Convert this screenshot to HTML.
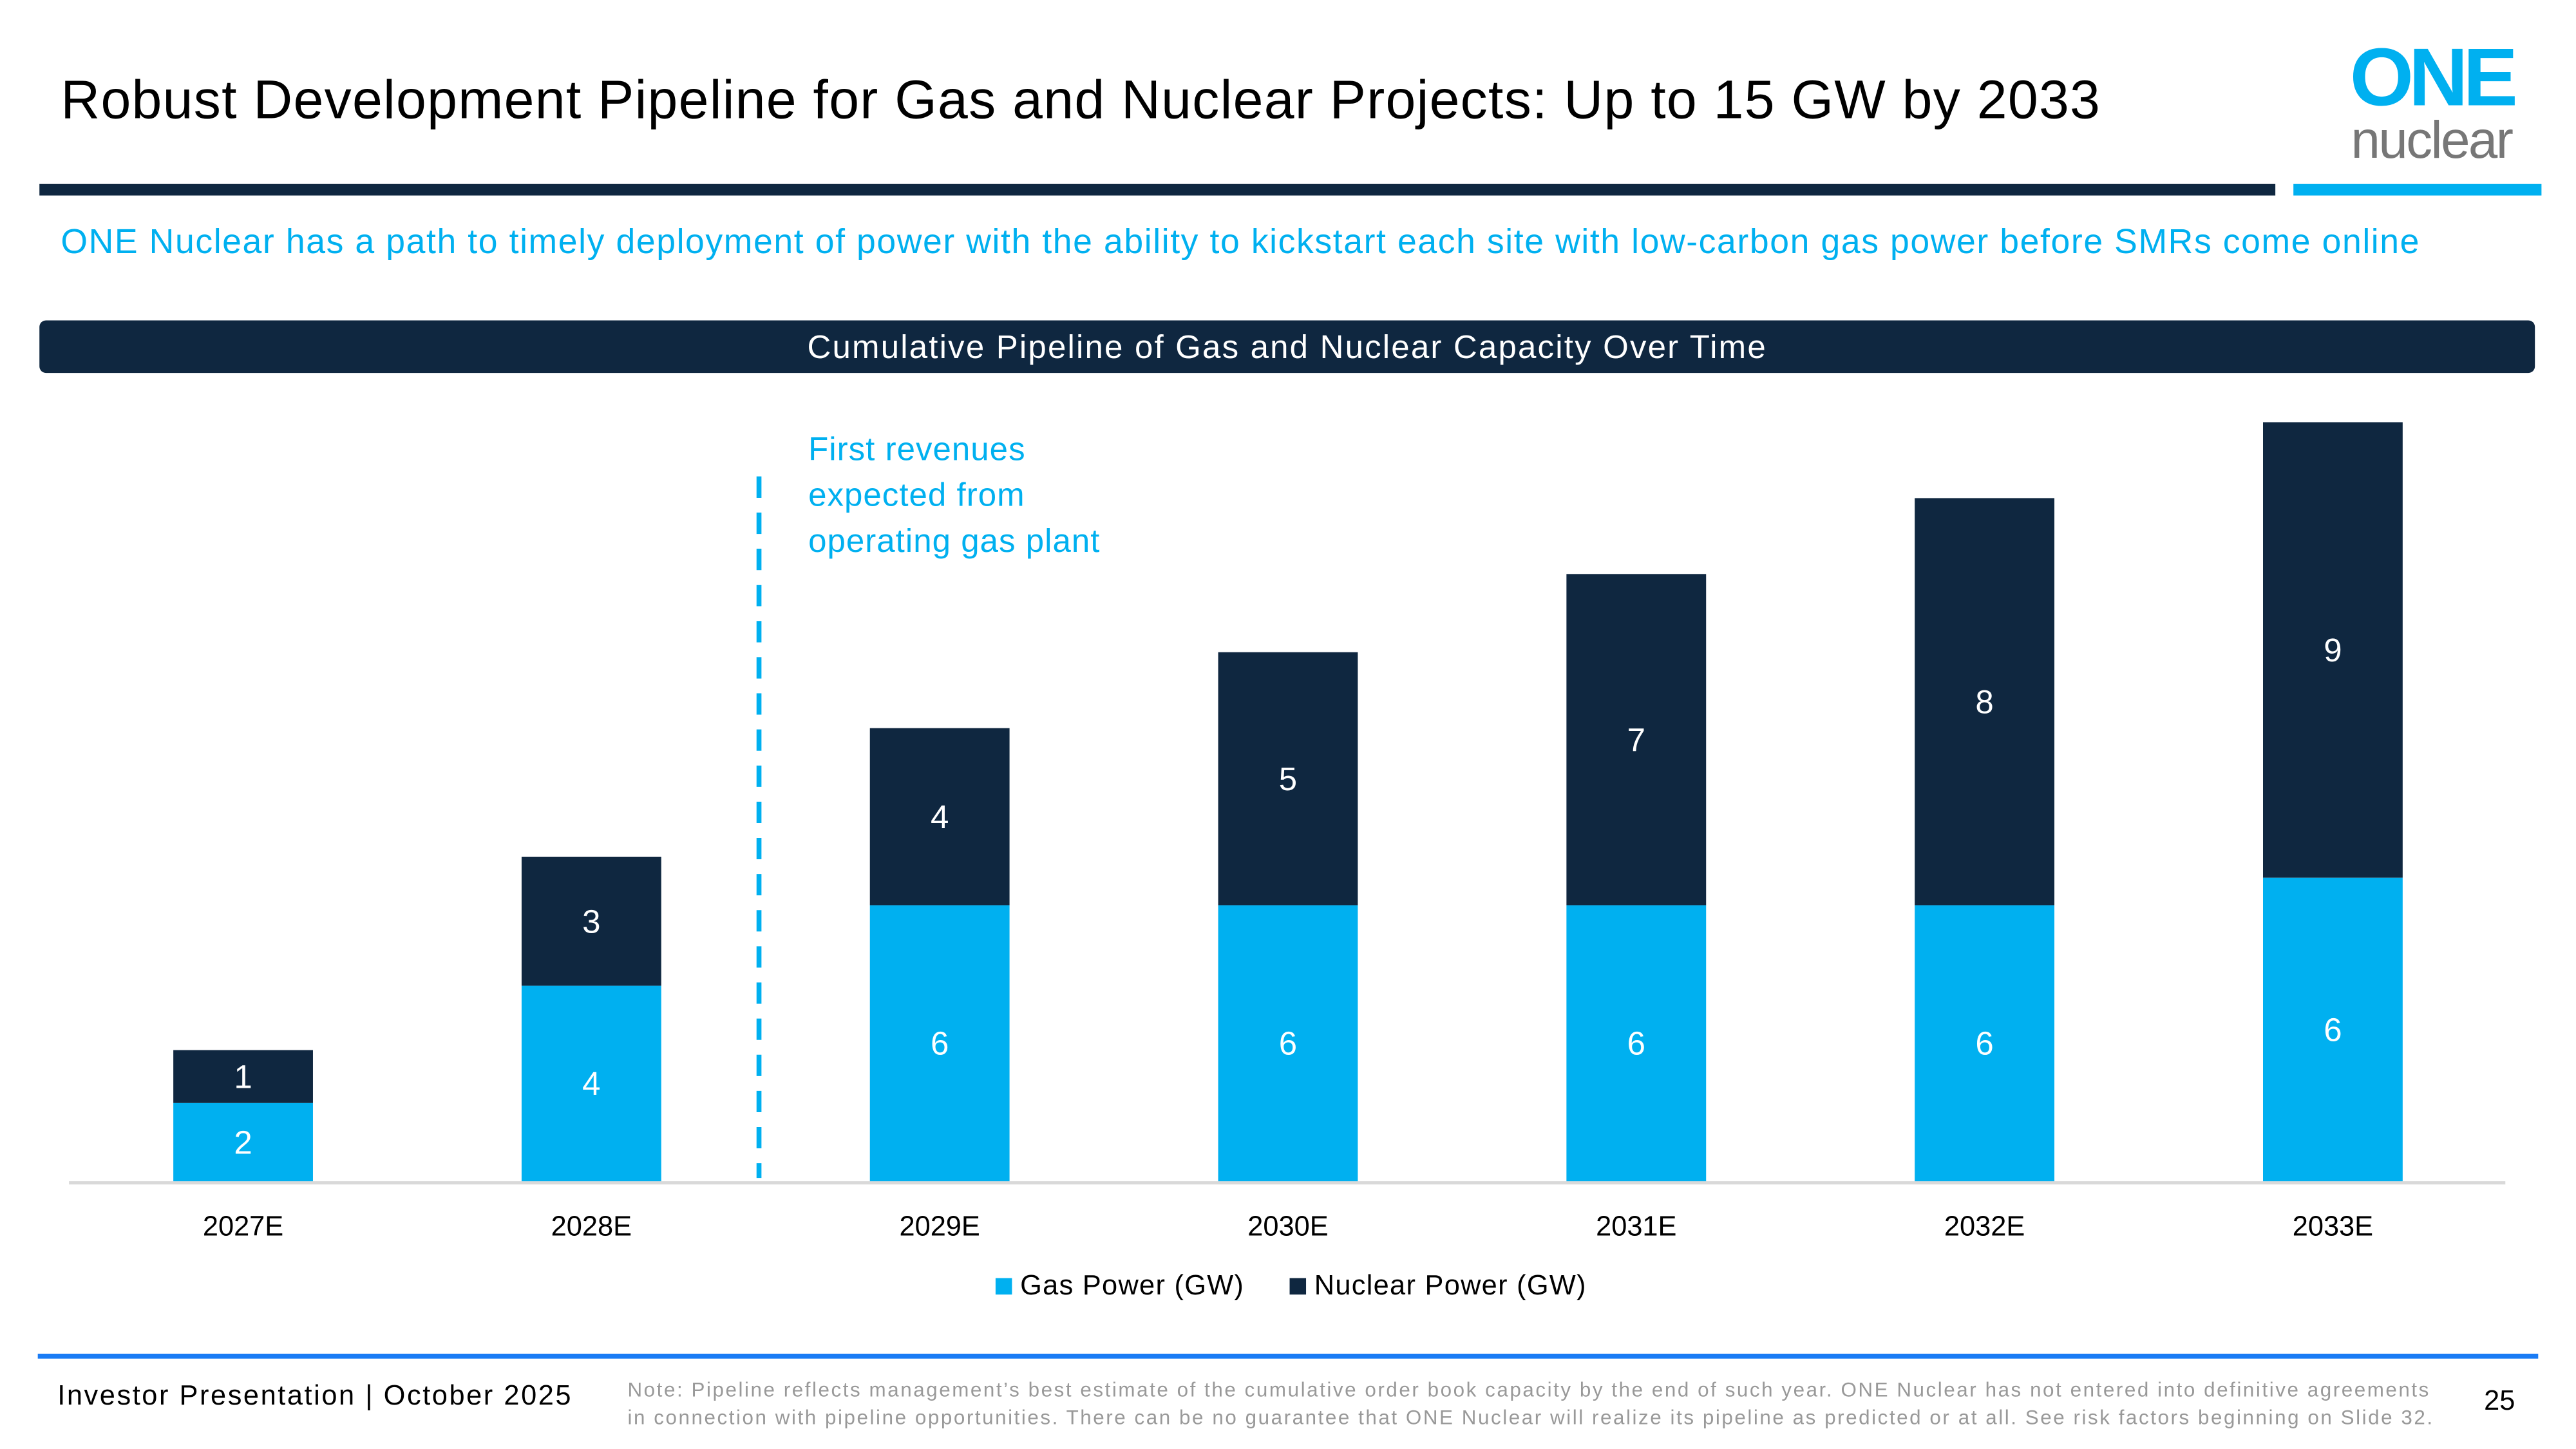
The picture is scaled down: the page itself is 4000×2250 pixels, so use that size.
<!DOCTYPE html>
<html><head><meta charset="utf-8"><style>
body{margin:0;width:4000px;height:2250px;overflow:hidden;background:#fff}
#s{position:absolute;left:0;top:0;width:1568px;height:882px;transform:scale(2.5510);transform-origin:0 0;font-family:"Liberation Sans",sans-serif}
.a{position:absolute;white-space:nowrap}
</style></head><body><div id="s">
<div class="a" style="left:37px;top:42px;font-size:33px;letter-spacing:0.5px;color:#000">Robust Development Pipeline for Gas and Nuclear Projects: Up to 15 GW by 2033</div>
<div class="a" style="left:1422px;top:22px;width:116px;text-align:center">
<div style="font-size:50px;font-weight:bold;color:#00b0f0;letter-spacing:-3px;line-height:50px">ONE</div>
<div style="font-size:32px;color:#777;line-height:26px;letter-spacing:-1px">nuclear</div></div>
<div class="a" style="left:24px;top:112px;width:1361px;height:7px;background:#0f2740"></div>
<div class="a" style="left:1396px;top:112px;width:151px;height:7px;background:#00b0f0"></div>
<div class="a" style="left:37px;top:136px;font-size:21px;color:#00b0f0;letter-spacing:0.62px">ONE Nuclear has a path to timely deployment of power with the ability to kickstart each site with low-carbon gas power before SMRs come online</div>
<div class="a" style="left:24px;top:195px;width:1519px;height:32px;background:#0f2740;border-radius:4px;color:#fff;font-size:20px;letter-spacing:0.85px;text-align:center;line-height:34px">Cumulative Pipeline of Gas and Nuclear Capacity Over Time</div>
<svg class="a" id="chart" style="left:0;top:0" width="1568" height="882"></svg>
<div class="a" style="left:492px;top:260px;font-size:20px;line-height:28px;letter-spacing:0.4px;color:#00b0f0">First revenues<br>expected from<br>operating gas plant</div>
<div class="a" style="left:606px;top:773px;font-size:17px;letter-spacing:0.5px"><span style="display:inline-block;width:10px;height:10px;background:#00b0f0;margin-right:5px"></span>Gas Power (GW)</div>
<div class="a" style="left:785px;top:773px;font-size:17px;letter-spacing:0.5px"><span style="display:inline-block;width:10px;height:10px;background:#0f2740;margin-right:5px"></span>Nuclear Power (GW)</div>
<div class="a" style="left:23px;top:824px;width:1522px;height:3px;background:#1a7cf5"></div>
<div class="a" style="left:35px;top:840px;font-size:17px;letter-spacing:1px">Investor Presentation | October 2025</div>
<div class="a" style="left:382px;top:838px;font-size:12.3px;line-height:17px;letter-spacing:1px;color:#999">Note: Pipeline reflects management’s best estimate of the cumulative order book capacity by the end of such year.  ONE Nuclear has not entered into definitive agreements<br>in connection with pipeline opportunities. There can be no guarantee that ONE Nuclear will realize its pipeline as predicted or at all. See risk factors beginning on Slide 32.</div>
<div class="a" style="left:1512px;top:843px;font-size:17px">25</div>
</div>
<script>
const categories=["2027E","2028E","2029E","2030E","2031E","2032E","2033E"];
const gasValues=[1.7,4.25,6.0,6.0,6.0,6.0,6.6];
const nuclearValues=[1.15,2.8,3.85,5.5,7.2,8.85,9.9];
const gasLabels=["2","4","6","6","6","6","6"];
const nuclearLabels=["1","3","4","5","7","8","9"];
const NS="http://www.w3.org/2000/svg";
const svg=document.getElementById('chart');
const base=719,unit=28,x0=148,step=212,bw=85;
const xc=i=>x0+i*step;
const y=v=>base-v*unit;
function mk(t,a){const e=document.createElementNS(NS,t);for(const k in a)e.setAttribute(k,a[k]);svg.appendChild(e);return e;}
const ax=mk('line',{x1:42,x2:1525,y1:base+1,y2:base+1,stroke:'#d9d9d9','stroke-width':2});


const dl=mk('line',{x1:462,x2:462,y1:290,y2:717,stroke:'#00b0f0','stroke-width':3,'stroke-dasharray':'13 9'});


categories.forEach((c,i)=>{
 const g=gasValues[i],n=nuclearValues[i];
 const r1=mk('rect',{x:xc(i)-bw/2,y:y(g),width:bw,height:g*unit,fill:'#00b0f0'});
 
 
 const r2=mk('rect',{x:xc(i)-bw/2,y:y(g+n),width:bw,height:n*unit,fill:'#0f2740'});
 
 
 const t1=mk('text',{x:xc(i),y:y(g/2)+7,'text-anchor':'middle','font-size':20,fill:'#fff'});t1.textContent=gasLabels[i];
 
 
 const t2=mk('text',{x:xc(i),y:y(g+n/2)+7,'text-anchor':'middle','font-size':20,fill:'#fff'});t2.textContent=nuclearLabels[i];
 
 
 const t3=mk('text',{x:xc(i),y:752,'text-anchor':'middle','font-size':17,fill:'#000'});t3.textContent=c;
 
 
});
</script>
</body></html>
